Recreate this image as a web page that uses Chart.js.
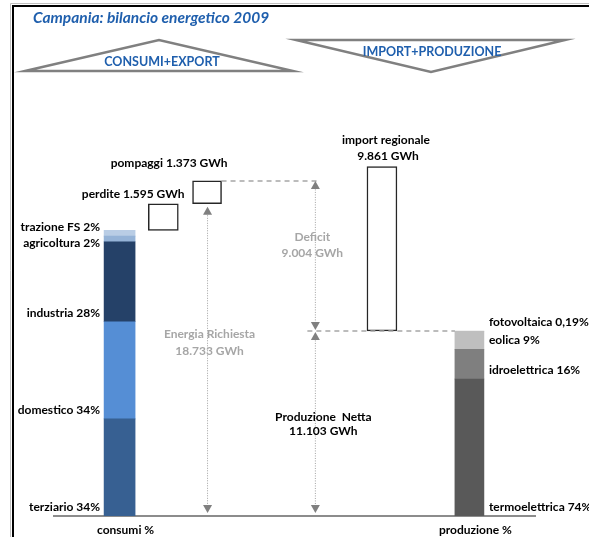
<!DOCTYPE html>
<html>
<head>
<meta charset="utf-8">
<title>Campania: bilancio energetico 2009</title>
<script src="https://cdn.jsdelivr.net/npm/chart.js@4.4.1/dist/chart.umd.min.js"></script>
<style>
  html, body { margin: 0; padding: 0; background: #fff; }
</style>
</head>
<body>
<canvas id="bilancio" width="589" height="537"></canvas>
<script>
// asse delle categorie: 11 posizioni, solo due con etichetta
var slots = ['', 'consumi %', '', '', '', '', '', '', '', 'produzione %', ''];

// consumi finali (GWh) e quote
var consumiNomi = ['terziario', 'domestico', 'industria', 'agricoltura', 'trazione FS'];
var consumiPct = ['34%', '34%', '28%', '2%', '2%'];
var consumiGWh = [5827, 5827, 4799, 343, 342];
var consumiColori = ['#376092', '#558ED5', '#254168', '#95B3D7', '#B9CDE5'];

// produzione netta per fonte (GWh) e quote
var produzioneNomi = ['termoelettrica', 'idroelettrica', 'eolica', 'fotovoltaica'];
var produzionePct = ['74%', '16%', '9%', '0,19%'];
var produzioneGWh = [8220, 1780, 1082, 21];
var produzioneColori = ['#595959', '#7F7F7F', '#BFBFBF', '#D9D9D9'];

// voci del bilancio (GWh)
var perdite = 1595;
var pompaggi = 1373;
var importRegionale = 9861;
var energiaRichiesta = 18733;
var deficit = 9004;
var produzioneNetta = 11103;

var BLU = '#1F5FAD';
var GRIGIO = '#A6A6A6';
var FONT = 'Lato, "Open Sans", sans-serif';
var FONT_ETICHETTE = 'bold 12px ' + FONT;

function gwh(n) {
    return String(n).replace(/\B(?=(\d{3})+(?!\d))/g, '.') + ' GWh';
}

function soloIn(idx, val) {
    return slots.map(function(s, i) { return i === idx ? val : null; });
}

var datasets = [];
var base = 0;
consumiGWh.forEach(function(v, i) {
    datasets.push({
        label: consumiNomi[i],
        data: soloIn(1, [base, base + v]),
        backgroundColor: consumiColori[i],
        barThickness: 31
    });
    base += v;
});
var totConsumi = base;

// perdite e pompaggi sopra i consumi
datasets.push({
    label: 'perdite',
    data: soloIn(2, [totConsumi, totConsumi + perdite]),
    backgroundColor: '#fff', borderColor: '#262626', borderWidth: 1.5,
    borderSkipped: false, barThickness: 30
});
datasets.push({
    label: 'pompaggi',
    data: soloIn(3, [energiaRichiesta, energiaRichiesta + pompaggi]),
    backgroundColor: '#fff', borderColor: '#262626', borderWidth: 1.5,
    borderSkipped: false, barThickness: 29
});
datasets.push({
    label: 'import regionale',
    data: soloIn(7, [produzioneNetta, produzioneNetta + importRegionale]),
    backgroundColor: '#fff', borderColor: '#262626', borderWidth: 1.5,
    borderSkipped: false, barThickness: 30
});

base = 0;
produzioneGWh.forEach(function(v, i) {
    datasets.push({
        label: produzioneNomi[i],
        data: soloIn(9, [base, base + v]),
        backgroundColor: produzioneColori[i],
        barThickness: 29
    });
    base += v;
});

function testo(ctx, str, x, y, align, colore, font) {
    ctx.save();
    ctx.font = font || FONT_ETICHETTE;
    ctx.fillStyle = colore || '#000';
    ctx.textAlign = align || 'center';
    ctx.textBaseline = 'middle';
    ctx.fillText(str, x, y);
    ctx.restore();
}

function freccia(ctx, x, yTop, yBot) {
    ctx.save();
    ctx.strokeStyle = '#A0A0A0';
    ctx.lineWidth = 1;
    ctx.setLineDash([1, 1.5]);
    ctx.beginPath();
    ctx.moveTo(x, yTop + 6);
    ctx.lineTo(x, yBot - 6);
    ctx.stroke();
    ctx.setLineDash([]);
    ctx.fillStyle = '#808080';
    ctx.beginPath();
    ctx.moveTo(x, yTop);
    ctx.lineTo(x - 4.5, yTop + 8);
    ctx.lineTo(x + 4.5, yTop + 8);
    ctx.closePath();
    ctx.fill();
    ctx.beginPath();
    ctx.moveTo(x, yBot);
    ctx.lineTo(x - 4.5, yBot - 8);
    ctx.lineTo(x + 4.5, yBot - 8);
    ctx.closePath();
    ctx.fill();
    ctx.restore();
}

function tratteggio(ctx, x1, x2, y) {
    ctx.save();
    ctx.strokeStyle = GRIGIO;
    ctx.lineWidth = 1.5;
    ctx.setLineDash([5, 4]);
    ctx.beginPath();
    ctx.moveTo(x1, y);
    ctx.lineTo(x2, y);
    ctx.stroke();
    ctx.restore();
}

function triangolo(ctx, pts) {
    ctx.save();
    ctx.strokeStyle = '#808080';
    ctx.lineWidth = 2.5;
    ctx.beginPath();
    ctx.moveTo(pts[0][0], pts[0][1]);
    ctx.lineTo(pts[1][0], pts[1][1]);
    ctx.lineTo(pts[2][0], pts[2][1]);
    ctx.closePath();
    ctx.stroke();
    ctx.restore();
}

var cornice = {
    id: 'cornice',
    beforeDraw: function(chart) {
        var ctx = chart.ctx;
        ctx.save();
        ctx.fillStyle = '#fff';
        ctx.fillRect(0, 0, chart.width, chart.height);
        ctx.strokeStyle = '#C0C0C0';
        ctx.lineWidth = 1;
        ctx.beginPath();
        ctx.moveTo(10.5, chart.height);
        ctx.lineTo(10.5, 3.5);
        ctx.lineTo(chart.width, 3.5);
        ctx.stroke();
        ctx.strokeStyle = '#000';
        ctx.lineWidth = 2;
        ctx.beginPath();
        ctx.moveTo(13, chart.height);
        ctx.lineTo(13, 6);
        ctx.lineTo(chart.width, 6);
        ctx.stroke();
        ctx.restore();
    }
};

var annotazioni = {
    id: 'annotazioni',
    afterDraw: function(chart) {
        var ctx = chart.ctx;
        var ys = chart.scales.y;
        var area = chart.chartArea;
        var slotW = (area.right - area.left) / slots.length;
        var nC = consumiGWh.length;

        // titolo e schema in alto
        testo(ctx, 'Campania: bilancio energetico 2009', 33, 18, 'left', BLU,
              'bold italic 15.5px ' + FONT);
        triangolo(ctx, [[25, 71], [159, 40], [293, 71]]);
        triangolo(ctx, [[296, 40], [565, 40], [431, 72]]);
        testo(ctx, 'CONSUMI+EXPORT', 162, 62, 'center', BLU, 'bold 12.5px ' + FONT);
        testo(ctx, 'IMPORT+PRODUZIONE', 432, 52, 'center', BLU, 'bold 12.5px ' + FONT);

        // etichette dei consumi, dall'alto verso il basso
        var barC = chart.getDatasetMeta(0).data[1];
        var prev = -Infinity;
        var cum = [];
        var s = 0;
        consumiGWh.forEach(function(v) { cum.push(s); s += v; });
        for (var i = nC - 1; i >= 0; i--) {
            var y = Math.max(ys.getPixelForValue(cum[i]) - 9, prev + 16.5);
            testo(ctx, consumiNomi[i] + ' ' + consumiPct[i], barC.x - barC.width / 2 - 4, y, 'right');
            prev = y;
        }

        // etichette della produzione
        var barP = chart.getDatasetMeta(nC + 3).data[9];
        cum = [];
        s = 0;
        produzioneGWh.forEach(function(v) { cum.push(s); s += v; });
        prev = -Infinity;
        for (var j = produzioneGWh.length - 1; j >= 0; j--) {
            var yp = Math.max(ys.getPixelForValue(cum[j]) - 9, prev + 17);
            testo(ctx, produzioneNomi[j] + ' ' + produzionePct[j], barP.x + barP.width / 2 + 5, yp, 'left');
            prev = yp;
        }

        // perdite, pompaggi, import
        var bPer = chart.getDatasetMeta(nC).data[2];
        var bPom = chart.getDatasetMeta(nC + 1).data[3];
        var bImp = chart.getDatasetMeta(nC + 2).data[7];
        testo(ctx, 'perdite ' + gwh(perdite), bPom.x - bPom.width / 2 - 8, bPer.y - 10, 'right');
        testo(ctx, 'pompaggi ' + gwh(pompaggi), bPom.x - 38, bPom.y - 18, 'center');
        testo(ctx, 'import regionale', bImp.x + 4, bImp.y - 26, 'center');
        testo(ctx, gwh(importRegionale), bImp.x + 6, bImp.y - 10, 'center');

        // frecce e linee di riferimento
        var y0 = ys.getPixelForValue(0);
        var yRich = ys.getPixelForValue(energiaRichiesta);
        var yTop = ys.getPixelForValue(energiaRichiesta + pompaggi);
        var yProd = ys.getPixelForValue(produzioneNetta);
        var xDef = area.left + 6 * slotW - 1;

        tratteggio(ctx, bPom.x + bPom.width / 2, xDef + 5, yTop);
        tratteggio(ctx, xDef - 8, barP.x - barP.width / 2, yProd);

        freccia(ctx, bPom.x + 0.5, yRich + 3, y0 - 3);
        freccia(ctx, xDef, yTop, yProd - 1);
        freccia(ctx, xDef, yProd + 1, y0 - 3);

        var midR = ys.getPixelForValue(energiaRichiesta / 2);
        testo(ctx, 'Energia Richiesta', bPom.x + 2.5, midR - 26, 'center', GRIGIO);
        testo(ctx, gwh(energiaRichiesta), bPom.x + 2.5, midR - 9, 'center', GRIGIO);

        var midD = (yTop + yProd) / 2;
        testo(ctx, 'Deficit', xDef - 3, midD - 19, 'center', GRIGIO);
        testo(ctx, gwh(deficit), xDef - 3, midD - 3, 'center', GRIGIO);

        var midP = (yProd + y0) / 2;
        testo(ctx, 'Produzione  Netta', xDef + 8, midP - 6, 'center');
        testo(ctx, gwh(produzioneNetta), xDef + 8, midP + 8, 'center');
    }
};

var ctx = document.getElementById('bilancio').getContext('2d');
var grafico = new Chart(ctx, {
    type: 'bar',
    data: { labels: slots, datasets: datasets },
    options: {
        responsive: false,
        animation: false,
        layout: { padding: { left: 54, right: 54, top: 166, bottom: 0 } },
        plugins: { legend: { display: false }, tooltip: { enabled: false } },
        scales: {
            x: {
                stacked: true,
                grid: { display: false, drawTicks: false },
                border: { display: true, color: '#8C8C8C', width: 2 },
                ticks: {
                    autoSkip: false, maxRotation: 0, padding: 7, labelOffset: 6,
                    color: '#000', font: { family: FONT, size: 12, weight: 'bold' }
                },
                afterFit: function(scale) { scale.height = 21; }
            },
            y: { display: false, min: 0, max: 21000 }
        }
    },
    plugins: [cornice, annotazioni]
});
</script>
</body>
</html>
